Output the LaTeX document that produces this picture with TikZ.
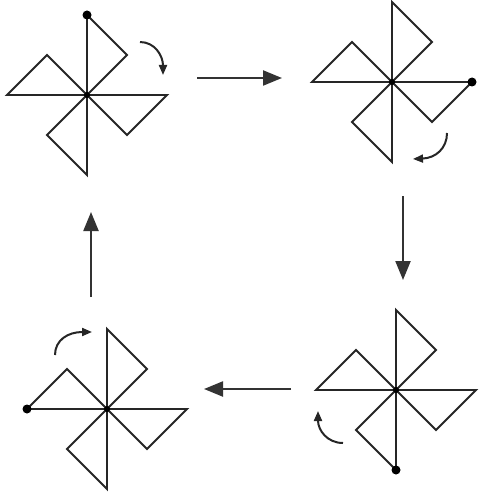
\documentclass[tikz,border=0pt]{standalone}
\usetikzlibrary{arrows.meta}
\begin{document}
\begin{tikzpicture}[x=1pt,y=-1pt,
  pin/.style={line width=1.9pt, line join=miter, black!85},
  flow/.style={line width=2.2pt, black!80, -{Triangle[length=19pt,width=15pt]}},
  turn/.style={line width=2pt, black!85, -{Triangle[length=10pt,width=8pt]}},
  dotmark/.style={circle, fill=black, inner sep=0pt, minimum size=9pt}]
\useasboundingbox (0,0) rectangle (478,494);
% centres
\coordinate (c1) at (87,95);
\coordinate (c2) at (392,82);
\coordinate (c3) at (396,390);
\coordinate (c4) at (107,409);
\foreach \c in {c1,c2,c3,c4}{
  \draw[pin] (\c) -- +(0,-80) -- +(40,-40) -- cycle;
  \draw[pin] (\c) -- +(80,0) -- +(40,40) -- cycle;
  \draw[pin] (\c) -- +(0,80) -- +(-40,40) -- cycle;
  \draw[pin] (\c) -- +(-80,0) -- +(-40,-40) -- cycle;
  \fill (\c) circle (3pt);
}
% marked tips
\node[dotmark] (d1) at (87,15) {};
\node[dotmark] (d2) at (472,82) {};
\node[dotmark] (d3) at (396,470) {};
\node[dotmark] (d4) at (27,409) {};
% straight arrows
\coordinate (a1s) at (197,78); \coordinate (a1e) at (282,78);
\coordinate (a2s) at (403,196); \coordinate (a2e) at (403,280);
\coordinate (a3s) at (291,389); \coordinate (a3e) at (204,389);
\coordinate (a4s) at (91,297); \coordinate (a4e) at (91,212);
\draw[flow] (a1s) -- (a1e);
\draw[flow] (a2s) -- (a2e);
\draw[flow] (a3s) -- (a3e);
\draw[flow] (a4s) -- (a4e);
% rotation arrows
\coordinate (r1s) at (140,42); \coordinate (r1e) at (163,75);
\coordinate (r2s) at (447,133); \coordinate (r2e) at (413,159);
\coordinate (r3s) at (343,443); \coordinate (r3e) at (318,411);
\coordinate (r4s) at (55,355); \coordinate (r4e) at (92,332);
\draw[turn] (r1s) .. controls (155,42) and (163,56) .. (r1e);
\draw[turn] (r2s) .. controls (447,148) and (436,158) .. (r2e);
\draw[turn] (r3s) .. controls (327,443) and (318,430) .. (r3e);
\draw[turn] (r4s) .. controls (55,340) and (68,332) .. (r4e);
\end{tikzpicture}
\end{document}
